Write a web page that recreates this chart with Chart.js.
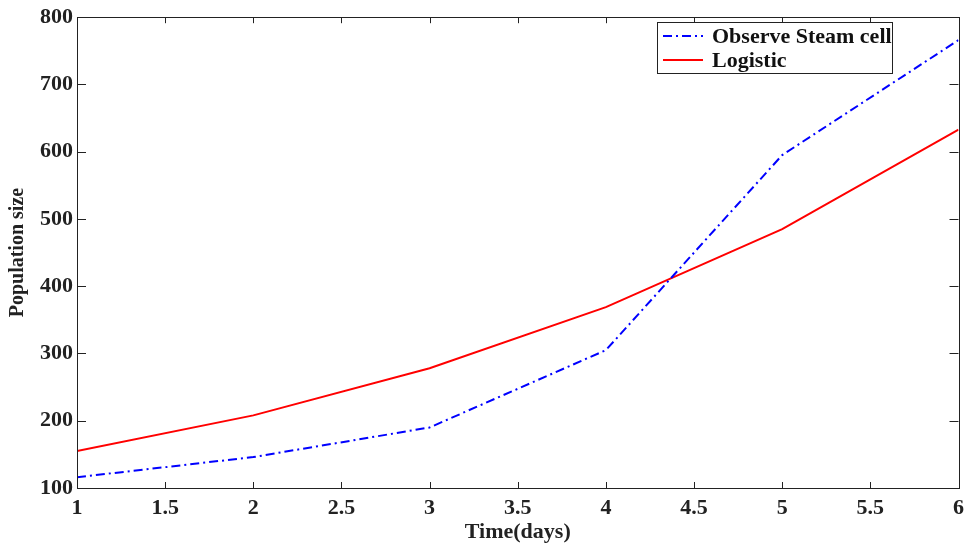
<!DOCTYPE html>
<html>
<head>
<meta charset="utf-8">
<script src="https://cdn.jsdelivr.net/npm/chart.js@4/dist/chart.umd.min.js"></script>
<style>
  html, body { margin: 0; padding: 0; background: #fff; }
  #wrap { position: relative; width: 971px; height: 546px; }
</style>
</head>
<body>
<div id="wrap"><canvas id="chart"></canvas></div>
<script>
// days
const days = [1, 2, 3, 4, 5, 6];
// observed stem cell counts
const observed = [116, 146, 190, 305, 595, 766];
// logistic model fit
const logistic = [155, 208, 278, 369, 485, 633];

const xTicks = [1, 1.5, 2, 2.5, 3, 3.5, 4, 4.5, 5, 5.5, 6];
const yTicks = [100, 200, 300, 400, 500, 600, 700, 800];

const FONT = "'Liberation Serif', 'Times New Roman', serif";

// box + inward ticks + legend, matlab style
const framePlugin = {
    id: "frame",
    afterDatasetsDraw(chart) {
        const ctx = chart.ctx;
        const a = chart.chartArea;
        const xs = chart.scales.x;
        const ys = chart.scales.y;
        ctx.save();
        ctx.strokeStyle = "#222";
        ctx.lineWidth = 1;
        ctx.beginPath();
        xTicks.forEach(v => {
            const px = Math.round(xs.getPixelForValue(v)) + 0.5;
            ctx.moveTo(px, a.bottom); ctx.lineTo(px, a.bottom - 6);
            ctx.moveTo(px, a.top); ctx.lineTo(px, a.top + 6);
        });
        yTicks.forEach(v => {
            const py = Math.round(ys.getPixelForValue(v)) + 0.5;
            ctx.moveTo(a.left, py); ctx.lineTo(a.left + 9, py);
            ctx.moveTo(a.right, py); ctx.lineTo(a.right - 9, py);
        });
        ctx.stroke();
        ctx.strokeRect(Math.round(a.left) + 0.5, Math.round(a.top) + 0.5,
            Math.round(a.right - a.left), Math.round(a.bottom - a.top));

        // legend
        const lx = 657, ly = 22, lw = 235, lh = 51;
        ctx.fillStyle = "#fff";
        ctx.fillRect(lx, ly, lw, lh);
        ctx.strokeStyle = "#222";
        ctx.strokeRect(lx + 0.5, ly + 0.5, lw, lh);
        ctx.font = "bold 22px " + FONT;
        ctx.textBaseline = "middle";
        chart.data.datasets.forEach((ds, i) => {
            const y = ly + 14 + i * 24;
            ctx.strokeStyle = ds.borderColor;
            ctx.lineWidth = 2;
            ctx.setLineDash(ds.borderDash || []);
            ctx.beginPath();
            ctx.moveTo(lx + 6, y); ctx.lineTo(lx + 46, y);
            ctx.stroke();
            ctx.setLineDash([]);
            ctx.fillStyle = "#111";
            ctx.fillText(ds.label, lx + 55, y + 1);
        });
        ctx.restore();
    }
};

new Chart(document.getElementById("chart"), {
    type: "line",
    data: {
        datasets: [
            {
                label: "Observe Steam cell",
                data: days.map((d, i) => ({ x: d, y: observed[i] })),
                borderColor: "#0000ff",
                borderWidth: 2,
                borderDash: [9, 4, 2, 4],
                pointRadius: 0,
                tension: 0,
            },
            {
                label: "Logistic",
                data: days.map((d, i) => ({ x: d, y: logistic[i] })),
                borderColor: "#ff0000",
                borderWidth: 2,
                pointRadius: 0,
                tension: 0,
            },
        ],
    },
    options: {
        responsive: true,
        maintainAspectRatio: false,
        animation: false,
        layout: { padding: { top: 15, right: 4, left: 0, bottom: 0 } },
        plugins: {
            legend: { display: false },
            tooltip: { enabled: false },
        },
        scales: {
            x: {
                type: "linear",
                min: 1,
                max: 6,
                afterBuildTicks: (s) => { s.ticks = xTicks.map(v => ({ value: v })); },
                afterFit: (s) => { s.height = 58; },
                grid: { display: false, drawTicks: false },
                border: { display: false },
                ticks: {
                    color: "#222",
                    padding: 7,
                    maxRotation: 0,
                    autoSkip: false,
                    callback: (v) => String(v),
                    font: { family: FONT, size: 22, weight: "bold" },
                },
                title: {
                    display: true,
                    text: "Time(days)",
                    color: "#222",
                    padding: { top: 0, bottom: 0 },
                    font: { family: FONT, size: 22, weight: "bold" },
                },
            },
            y: {
                min: 100,
                max: 800,
                afterBuildTicks: (s) => { s.ticks = yTicks.map(v => ({ value: v })); },
                afterFit: (s) => { s.width = 77; },
                grid: { display: false, drawTicks: false },
                border: { display: false },
                ticks: {
                    color: "#222",
                    padding: 4,
                    font: { family: FONT, size: 22, weight: "bold" },
                },
                title: {
                    display: true,
                    text: "Population size",
                    color: "#222",
                    padding: { top: 6, bottom: 0 },
                    font: { family: FONT, size: 20, weight: "bold" },
                },
            },
        },
    },
    plugins: [framePlugin],
});
</script>
</body>
</html>
